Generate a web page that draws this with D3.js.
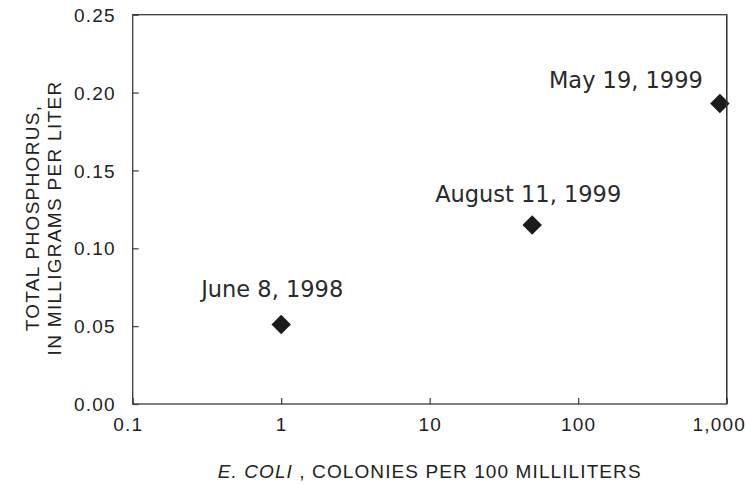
<!DOCTYPE html>
<html>
<head>
<meta charset="utf-8">
<script src="https://cdn.jsdelivr.net/npm/d3@7"></script>
<style>
  html, body { margin: 0; padding: 0; background: #fff; }
  svg { display: block; }
</style>
</head>
<body>
<svg id="chart" width="745" height="484"></svg>
<script>
// ---- data ----
const sampleDates = ["June 8, 1998", "August 11, 1999", "May 19, 1999"];
const ecoliValues = [1, 49, 900];
const phosphorusValues = [0.051, 0.115, 0.193];
const xTickValues = [0.1, 1, 10, 100, 1000];
const xTickLabels = ["0.1", "1", "10", "100", "1,000"];
const yTickValues = [0, 0.05, 0.10, 0.15, 0.20, 0.25];
const yTickLabels = ["0.00", "0.05", "0.10", "0.15", "0.20", "0.25"];
// label offsets from the point (layout, not data)
const labelOffsets = [[-9, -28], [-4, -23], [-94, -15]];

const W = 745, H = 484;
const margin = {left: 132.7, right: 18.3, top: 14.7, bottom: 80};
const svg = d3.select("#chart");

const x = d3.scaleLog().domain([0.1, 1000]).range([margin.left, W - margin.right]);
const y = d3.scaleLinear().domain([0, 0.25]).range([H - margin.bottom, margin.top]);

const axisColor = "#3a3a3a";
const textColor = "#222";
const tickFont = "'Liberation Sans', Arial, Helvetica, sans-serif";

// X axis (ticks inward)
const xAxis = d3.axisBottom(x)
  .tickValues(xTickValues)
  .tickSizeInner(-6).tickSizeOuter(0)
  .tickFormat((d, i) => xTickLabels[i])
  .tickPadding(15);
const gx = svg.append("g").attr("transform", `translate(0,${y(0)})`).call(xAxis);
gx.select(".domain").remove();
gx.selectAll(".tick line").attr("stroke", axisColor).attr("stroke-width", 1.2);
gx.selectAll(".tick text")
  .attr("font-family", tickFont).attr("font-size", 19)
  .attr("letter-spacing", 1.2).attr("fill", textColor)
  .attr("dy", "0.71em").attr("y", 14)
  .attr("dx", (d, i) => i === 0 ? -5 : (i === xTickValues.length - 1 ? -8 : 0));

// Y axis (ticks inward)
const yAxis = d3.axisLeft(y)
  .tickValues(yTickValues)
  .tickSizeInner(-6).tickSizeOuter(0)
  .tickFormat((d, i) => yTickLabels[i])
  .tickPadding(17);
const gy = svg.append("g").attr("transform", `translate(${x(0.1)},0)`).call(yAxis);
gy.select(".domain").remove();
gy.selectAll(".tick line").attr("stroke", axisColor).attr("stroke-width", 1.2);
gy.selectAll(".tick text")
  .attr("font-family", tickFont).attr("font-size", 19)
  .attr("letter-spacing", 1.2).attr("fill", textColor)
  .attr("x", -17).attr("dy", "0.35em");

// Frame
svg.append("rect")
  .attr("x", x(0.1)).attr("y", y(0.25))
  .attr("width", x(1000) - x(0.1)).attr("height", y(0) - y(0.25))
  .attr("fill", "none").attr("stroke", axisColor).attr("stroke-width", 1.3);

// Points (diamonds)
const pts = sampleDates.map((d, i) => ({label: d, xv: ecoliValues[i], yv: phosphorusValues[i], off: labelOffsets[i]}));
const diamond = d3.symbol().type(d3.symbolSquare).size(190);
svg.append("g").selectAll("path").data(pts).join("path")
  .attr("d", diamond)
  .attr("transform", d => `translate(${x(d.xv)},${y(d.yv)}) rotate(45)`)
  .attr("fill", "#1b1b1b");

// Re-draw right frame edge on top (as in reference)
svg.append("line")
  .attr("x1", x(1000)).attr("x2", x(1000))
  .attr("y1", y(0.25)).attr("y2", y(0))
  .attr("stroke", axisColor).attr("stroke-width", 1.3);

// Annotations
svg.append("g").selectAll("text").data(pts).join("text")
  .attr("x", d => x(d.xv) + d.off[0])
  .attr("y", d => y(d.yv) + d.off[1])
  .attr("text-anchor", "middle")
  .attr("font-family", "'DejaVu Sans', sans-serif")
  .attr("font-size", 22.5)
  .attr("fill", "#2a2a2a")
  .text(d => d.label);

// X axis title
const xt = svg.append("text")
  .attr("x", (x(0.1) + x(1000)) / 2)
  .attr("y", 478)
  .attr("text-anchor", "middle")
  .attr("font-family", tickFont).attr("font-size", 19)
  .attr("letter-spacing", 1.1).attr("fill", textColor);
xt.append("tspan").attr("font-style", "italic").text("E. COLI");
xt.append("tspan").text("\u00a0, COLONIES PER 100 MILLILITERS");

// Y axis title (two lines)
const yt = svg.append("text")
  .attr("transform", "translate(38.5,218) rotate(-90)")
  .attr("text-anchor", "middle")
  .attr("font-family", tickFont).attr("font-size", 19)
  .attr("letter-spacing", 1.3).attr("fill", textColor);
yt.append("tspan").attr("x", 0).attr("y", 0).text("TOTAL PHOSPHORUS,");
yt.append("tspan").attr("x", 0).attr("y", 22.5).text("IN MILLIGRAMS PER LITER");
</script>
</body>
</html>
